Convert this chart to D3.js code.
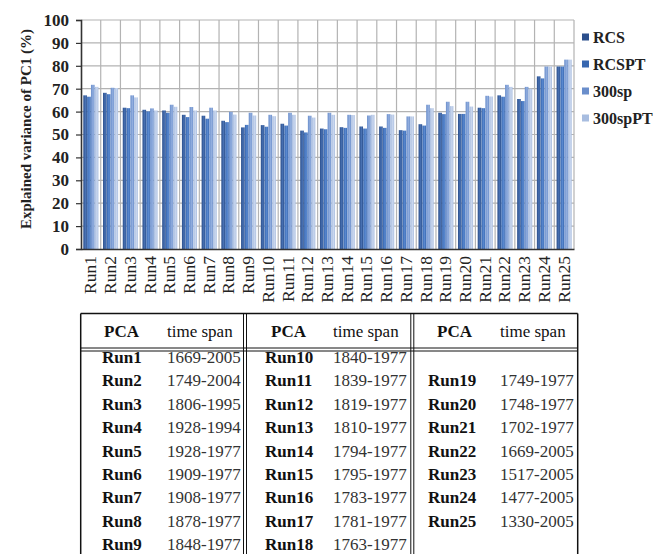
<!DOCTYPE html>
<html>
<head>
<meta charset="utf-8">
<script src="https://cdn.jsdelivr.net/npm/d3@7"></script>
<style>
html,body{margin:0;padding:0;background:#fff;}
svg{display:block;}
</style>
</head>
<body>
<svg id="chart" width="653" height="554"></svg>
<script>
const runs = ["Run1","Run2","Run3","Run4","Run5","Run6","Run7","Run8","Run9","Run10","Run11","Run12","Run13","Run14","Run15","Run16","Run17","Run18","Run19","Run20","Run21","Run22","Run23","Run24","Run25"];
const seriesNames = ["RCS","RCSPT","300sp","300spPT"];
const rcs     = [67.1,68.2,61.7,60.8,60.5,58.6,58.2,56.0,53.1,54.1,54.7,51.7,52.6,53.2,53.5,53.5,51.9,54.5,59.5,59.0,61.7,67.1,65.5,75.4,79.7];
const rcspt   = [66.5,67.6,61.5,60.1,59.5,57.6,56.9,55.4,54.2,53.4,53.9,50.9,52.3,52.9,52.6,52.9,51.7,53.9,58.9,59.0,61.5,66.5,64.6,74.5,79.7];
const sp300   = [71.7,70.4,67.1,61.4,63.0,62.0,61.7,59.9,59.5,58.6,59.5,58.2,59.5,58.6,58.3,58.9,57.9,63.0,64.3,64.3,66.9,71.7,70.8,79.7,82.7];
const sp300pt = [70.8,70.3,66.2,60.5,62.1,60.5,60.5,58.7,58.3,58.0,58.6,57.4,58.6,58.5,58.6,58.7,57.9,61.5,62.4,62.2,66.6,70.8,70.0,79.7,82.7];
const yTicks = [0,10,20,30,40,50,60,70,80,90,100];
const timeSpans = ["1669-2005","1749-2004","1806-1995","1928-1994","1928-1977","1909-1977","1908-1977","1878-1977","1848-1977",
  "1840-1977","1839-1977","1819-1977","1810-1977","1794-1977","1795-1977","1783-1977","1781-1977","1763-1977",
  "1749-1977","1748-1977","1702-1977","1669-2005","1517-2005","1477-2005","1330-2005"];
const tableHeaders = ["PCA","time span"];

const seriesValues = [rcs, rcspt, sp300, sp300pt];
const colorsDark  = ["#2b4f8c","#3767b0","#6a8ecb","#a8bde0"];
const colorsLight = ["#4871b3","#5a89d0","#93afdf","#cad7ee"];

const svg = d3.select("#chart");
const serif = "'Liberation Serif','Times New Roman',serif";

const x = d3.scaleBand().domain(runs).range([81, 574]).paddingInner(0).paddingOuter(0);
const x1 = d3.scaleBand().domain(seriesNames).range([0, x.bandwidth()]).paddingInner(0.05).paddingOuter(0.6);
const y = d3.scaleLinear().domain([0,100]).range([249, 20]);

// gradients
const defs = svg.append("defs");
seriesNames.forEach((s,i)=>{
  const g = defs.append("linearGradient").attr("id","g"+i).attr("x1","0%").attr("x2","100%").attr("y1","0%").attr("y2","0%");
  g.append("stop").attr("offset","0%").attr("stop-color",colorsDark[i]);
  g.append("stop").attr("offset","60%").attr("stop-color",colorsLight[i]);
  g.append("stop").attr("offset","100%").attr("stop-color",colorsDark[i]);
});

// gridlines
const grid = svg.append("g");
grid.selectAll("line.h").data(yTicks.filter(d=>d>0)).join("line")
  .attr("x1",81).attr("x2",574).attr("y1",d=>y(d)).attr("y2",d=>y(d))
  .attr("stroke","#b3b3b3").attr("stroke-width",1.2);
grid.selectAll("line.v").data(runs).join("line")
  .attr("x1",d=>x(d)+x.bandwidth()).attr("x2",d=>x(d)+x.bandwidth())
  .attr("y1",y(100)).attr("y2",y(0))
  .attr("stroke","#b3b3b3").attr("stroke-width",1.2);

// bars
const groups = svg.append("g").selectAll("g").data(runs).join("g")
  .attr("transform",d=>`translate(${x(d)},0)`);
groups.selectAll("rect").data((d,ri)=>seriesNames.map((s,si)=>({s,si,v:seriesValues[si][ri]}))).join("rect")
  .attr("x",d=>x1(d.s)).attr("width",x1.bandwidth())
  .attr("y",d=>y(d.v)).attr("height",d=>y(0)-y(d.v))
  .attr("fill",d=>`url(#g${d.si})`);

// y axis
const yAxis = d3.axisLeft(y).tickValues(yTicks).tickSize(5).tickPadding(7);
const ya = svg.append("g").attr("transform","translate(81,0)").call(yAxis);
ya.select(".domain").attr("stroke","#333").attr("stroke-width",1.6);
ya.selectAll(".tick line").attr("stroke","#333").attr("stroke-width",1.2);
ya.selectAll(".tick text").attr("font-family",serif).attr("font-size","17px").attr("font-weight","bold").attr("fill","#222");

// x axis
const xAxis = d3.axisBottom(x).tickSize(0).tickSizeOuter(0);
const xa = svg.append("g").attr("transform","translate(0,249)").call(xAxis);
xa.select(".domain").attr("stroke","#333").attr("stroke-width",1.6);
xa.selectAll(".tick text")
  .attr("font-family",serif).attr("font-size","17.5px").attr("fill","#222")
  .attr("text-anchor","end").attr("dy",null).attr("y",null)
  .attr("transform","translate(5.5,7) rotate(-90)");

// y title
svg.append("text").attr("transform","translate(31,129) rotate(-90)")
  .attr("text-anchor","middle").attr("font-family",serif).attr("font-weight","bold")
  .attr("font-size","15px").attr("fill","#222").text("Explained variance of PC1 (%)");

// legend
const lg = svg.append("g").selectAll("g").data(seriesNames).join("g")
  .attr("transform",(d,i)=>`translate(582,${37+i*27})`);
lg.append("rect").attr("x",0).attr("y",-3.5).attr("width",7).attr("height",7)
  .attr("fill",(d,i)=>colorsDark[i]);
lg.append("text").attr("x",11).attr("y",5.5).attr("font-family",serif).attr("font-weight","bold")
  .attr("font-size","16px").attr("fill","#222").text(d=>d);

// table
const tb = svg.append("g");
const tblLeft = 80.7, tblRight = 577.7, tblTop = 313.5;
const lineColor = "#111";
tb.append("line").attr("x1",tblLeft).attr("x2",tblRight).attr("y1",tblTop).attr("y2",tblTop).attr("stroke",lineColor).attr("stroke-width",1.5);
[348,351].forEach(yy=>tb.append("line").attr("x1",tblLeft).attr("x2",tblRight).attr("y1",yy).attr("y2",yy).attr("stroke",lineColor).attr("stroke-width",1));
tb.append("line").attr("x1",tblLeft).attr("x2",tblLeft).attr("y1",tblTop).attr("y2",554).attr("stroke",lineColor).attr("stroke-width",1.5);
tb.append("line").attr("x1",tblRight).attr("x2",tblRight).attr("y1",tblTop).attr("y2",554).attr("stroke",lineColor).attr("stroke-width",1.5);
[243.5,246.5,410.8,413.8].forEach(xx=>tb.append("line").attr("x1",xx).attr("x2",xx).attr("y1",tblTop).attr("y2",554).attr("stroke",lineColor).attr("stroke-width",1));

const colStarts = [{pca:104, span:167, runX:102},{pca:271, span:333, runX:265},{pca:437, span:500, runX:428}];
colStarts.forEach(c=>{
  tb.append("text").attr("x",c.pca).attr("y",337).attr("font-family",serif).attr("font-weight","bold")
    .attr("font-size","17px").attr("fill","#111").text(tableHeaders[0]);
  tb.append("text").attr("x",c.span).attr("y",337).attr("font-family",serif)
    .attr("font-size","17px").attr("fill","#111").text(tableHeaders[1]);
});
const rowY = r => 363 + r*23.4;
const cells = runs.map((r,i)=>{
  let col, row;
  if (i < 9) { col = 0; row = i; }
  else if (i < 18) { col = 1; row = i-9; }
  else { col = 2; row = i-18+1; }
  return {run:r, span:timeSpans[i], col, row};
});
tb.selectAll("text.run").data(cells).join("text").attr("class","run")
  .attr("x",d=>colStarts[d.col].runX).attr("y",d=>rowY(d.row))
  .attr("font-family",serif).attr("font-weight","bold").attr("font-size","17px").attr("fill","#111").text(d=>d.run);
tb.selectAll("text.span").data(cells).join("text").attr("class","span")
  .attr("x",d=>colStarts[d.col].span).attr("y",d=>rowY(d.row))
  .attr("font-family",serif).attr("font-size","17px").attr("fill","#333").text(d=>d.span);
</script>
</body>
</html>
